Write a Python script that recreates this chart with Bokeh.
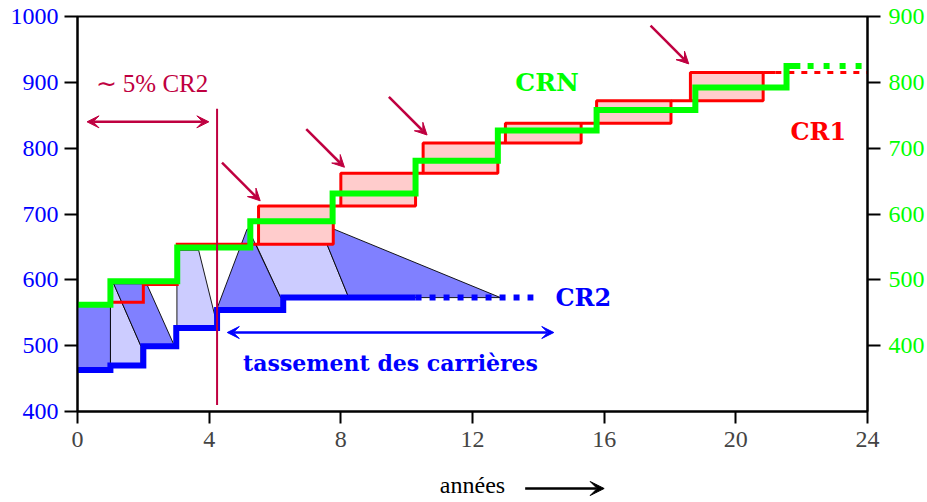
from bokeh.plotting import figure
from bokeh.layouts import column
from bokeh.models import Range1d, LinearAxis, FixedTicker, Arrow, VeeHead, Label
from bokeh.embed import file_html
from bokeh.resources import INLINE

# ---------------- data ----------------
x_ticks = [0, 4, 8, 12, 16, 20, 24]
left_ticks = [400, 500, 600, 700, 800, 900, 1000]
right_ticks = [400, 500, 600, 700, 800, 900]

# CRN (green) step curve
crn_steps = [0, 1, 3.03, 5.25, 7.75, 10.27, 12.77, 15.77, 18.77, 21.54]
crn_levels = [562, 598, 649, 689, 731, 781, 827, 858, 892, 925]
crn_end = 21.96
crn_proj = [22.18, 24]

# CR2 (blue) step curve
cr2_steps = [0, 1, 2, 3, 4.24, 6.25]
cr2_levels = [463, 470, 499, 527, 554, 573]
cr2_end = 10.27
cr2_proj_end = 13.85

# CR1 (red) step curve and boxes
cr1_steps = [1, 2, 3.03]
cr1_levels = [566, 593, 654]
box_left = [5.5, 8.0, 10.5, 13.0, 15.77, 18.62]
box_right = [7.77, 10.27, 12.77, 15.3, 18.03, 20.83]
box_edges = [654, 712, 762, 808, 838, 872, 915]
cr1_end = 21.2
cr1_proj_end = 24

# shaded settlement areas
light_x = [[1, 1, 1.1, 1.93, 1.93], [3.02, 3.02, 3.68, 4.2, 4.2], [5.42, 7.58, 8.24, 6.17]]
light_y = [[470, 594, 594, 499, 470], [527, 645, 645, 540, 527], [654, 654, 573, 573]]
mid_x = [[0, 0, 1, 1], [1.1, 2.1, 2.95, 1.93], [4.22, 5.15, 5.19, 6.17, 6.25, 6.25], [7.58, 7.79, 12.85, 8.24]]
mid_y = [[463, 560, 560, 463], [594, 594, 499, 499], [554, 677, 677, 573, 573, 554], [654, 677, 573, 573]]

# pointer arrows (tips) and their offset
pointer_x = [5.55, 8.11, 10.62, 18.57]
pointer_y = [720, 771, 820, 928]
pointer_dx, pointer_dy = -1.16, 58

# annotation values
limit_x = 4.24
limit_y = [410, 860]
five_pct_arrow = [0.29, 3.99, 840]
settle_arrow = [4.55, 14.47, 520]
years_arrow = [13.6, 16.0]

PURPLE = "#BF0040"
BLUE = "#0000FF"
GREEN = "#00FF00"
RED = "#FF0000"
MID = "#8080FF"
LIGHT = "#CCCCFF"
PINK = "#FFCCCC"

SERIF = "Liberation Serif"
BOLD = "DejaVu Serif"

xr = Range1d(0, 24)
p = figure(width=927, height=462, x_range=xr, y_range=Range1d(400, 1000),
           output_backend="svg", toolbar_location=None,
           min_border_left=77, min_border_right=60, min_border_top=16, min_border_bottom=51)
p.extra_y_ranges = {"crn": Range1d(300, 900)}
p.grid.visible = False
p.outline_line_color = "black"
p.outline_line_width = 2
p.background_fill_color = "white"
p.border_fill_color = "white"

# axes styling
for ax in [p.xaxis[0], p.yaxis[0]]:
    ax.axis_line_width = 2
    ax.major_tick_line_width = 2
    ax.major_tick_in = 0
    ax.minor_tick_line_color = None
    ax.major_label_text_font = SERIF
    ax.major_label_text_font_size = "24px"
p.xaxis.ticker = FixedTicker(ticks=x_ticks)
p.xaxis.major_tick_out = 12
p.xaxis.major_label_standoff = 8
p.yaxis.ticker = FixedTicker(ticks=left_ticks)
p.yaxis.major_tick_out = 13
p.yaxis.major_label_standoff = 6
p.yaxis.major_label_text_color = BLUE

rax = LinearAxis(y_range_name="crn", ticker=FixedTicker(ticks=right_ticks))
rax.axis_line_width = 2
rax.major_tick_line_width = 2
rax.major_tick_in = 0
rax.major_tick_out = 13
rax.major_label_standoff = 8
rax.minor_tick_line_color = None
rax.major_label_text_font = SERIF
rax.major_label_text_font_size = "24px"
rax.major_label_text_color = GREEN
p.add_layout(rax, "right")

# shaded areas
p.patches(light_x, light_y, fill_color=LIGHT, line_color="black", line_width=0.9)
p.patches(mid_x, mid_y, fill_color=MID, line_color="black", line_width=0.9)

# CR1 boxes
p.quad(left=box_left, right=box_right, bottom=box_edges[:-1], top=box_edges[1:],
       fill_color=PINK, line_color=RED, line_width=3)

# CR1 line: initial steps, connectors between boxes, end
r_x = cr1_steps + [box_left[0]]
r_y = cr1_levels + [cr1_levels[-1]]
p.step(r_x, r_y, mode="after", line_color=RED, line_width=3, line_join="miter")
conn_x0 = box_right
conn_x1 = box_left[1:] + [cr1_end]
conn_y = box_edges[1:]
p.segment(x0=conn_x0, y0=conn_y, x1=conn_x1, y1=conn_y, line_color=RED, line_width=3)
p.line([cr1_end, cr1_proj_end], [box_edges[-1]] * 2, line_color=RED, line_width=3, line_dash="6 7")

# CR2 line
b_x = cr2_steps + [cr2_end]
b_y = cr2_levels + [cr2_levels[-1]]
p.step(b_x, b_y, mode="after", line_color=BLUE, line_width=6, line_join="miter")
p.line([cr2_end, cr2_proj_end], [cr2_levels[-1]] * 2, line_color=BLUE, line_width=6, line_dash="6 8")

# CRN line
g_x = crn_steps + [crn_end]
g_y = crn_levels + [crn_levels[-1]]
p.step(g_x, g_y, mode="after", line_color=GREEN, line_width=6, line_join="miter")
p.line(crn_proj, [crn_levels[-1]] * 2, line_color=GREEN, line_width=6, line_dash="6 10")

# purple annotations
p.segment(x0=[limit_x], y0=[limit_y[0]], x1=[limit_x], y1=[limit_y[1]], line_color=PURPLE, line_width=2)
p.add_layout(Arrow(start=VeeHead(size=12, fill_color=PURPLE, line_color=PURPLE),
                   end=VeeHead(size=12, fill_color=PURPLE, line_color=PURPLE),
                   x_start=five_pct_arrow[0], x_end=five_pct_arrow[1],
                   y_start=five_pct_arrow[2], y_end=five_pct_arrow[2],
                   line_color=PURPLE, line_width=2.5))
for tx, ty in zip(pointer_x, pointer_y):
    p.add_layout(Arrow(end=VeeHead(size=12, fill_color=PURPLE, line_color=PURPLE),
                       x_start=tx + pointer_dx, y_start=ty + pointer_dy, x_end=tx, y_end=ty,
                       line_color=PURPLE, line_width=2.5))
p.add_layout(Label(x=0.55, y=898, text="∼ 5% CR2", text_font=SERIF, text_font_size="25px",
                   text_color=PURPLE, text_baseline="middle", text_align="left"))

# blue annotation
p.add_layout(Arrow(start=VeeHead(size=12, fill_color=BLUE, line_color=BLUE),
                   end=VeeHead(size=12, fill_color=BLUE, line_color=BLUE),
                   x_start=settle_arrow[0], x_end=settle_arrow[1],
                   y_start=settle_arrow[2], y_end=settle_arrow[2],
                   line_color=BLUE, line_width=2.5))
p.add_layout(Label(x=9.51, y=474, text="tassement des carrières", text_font=BOLD,
                   text_font_size="22px", text_font_style="bold", text_color=BLUE,
                   text_baseline="middle", text_align="center"))

# series labels
p.add_layout(Label(x=14.52, y=573, text="CR2", text_font=BOLD, text_font_size="24px",
                   text_font_style="bold", text_color=BLUE, text_baseline="middle", text_align="left"))
p.add_layout(Label(x=13.3, y=900, text="CRN", text_font=BOLD, text_font_size="25px",
                   text_font_style="bold", text_color=GREEN, text_baseline="middle", text_align="left"))
p.add_layout(Label(x=21.66, y=825, text="CR1", text_font=BOLD, text_font_size="24px",
                   text_font_style="bold", text_color=RED, text_baseline="middle", text_align="left"))

# x axis title with arrow, in a thin strip below the chart sharing the x range
q = figure(width=927, height=40, x_range=xr, y_range=Range1d(0, 1),
           output_backend="svg", toolbar_location=None,
           min_border_left=77, min_border_right=60, min_border_top=0, min_border_bottom=0)
q.axis.visible = False
q.grid.visible = False
q.outline_line_color = None
q.add_layout(Label(x=12, y=0.45, text="années", text_font=SERIF, text_font_size="24px",
                   text_color="black", text_baseline="middle", text_align="center"))
q.add_layout(Arrow(end=VeeHead(size=14, fill_color="black", line_color="black"),
                   x_start=years_arrow[0], x_end=years_arrow[1], y_start=0.35, y_end=0.35,
                   line_color="black", line_width=2.5))

layout = column(p, q, spacing=0)
open("out.html", "w").write(file_html(layout, INLINE))
